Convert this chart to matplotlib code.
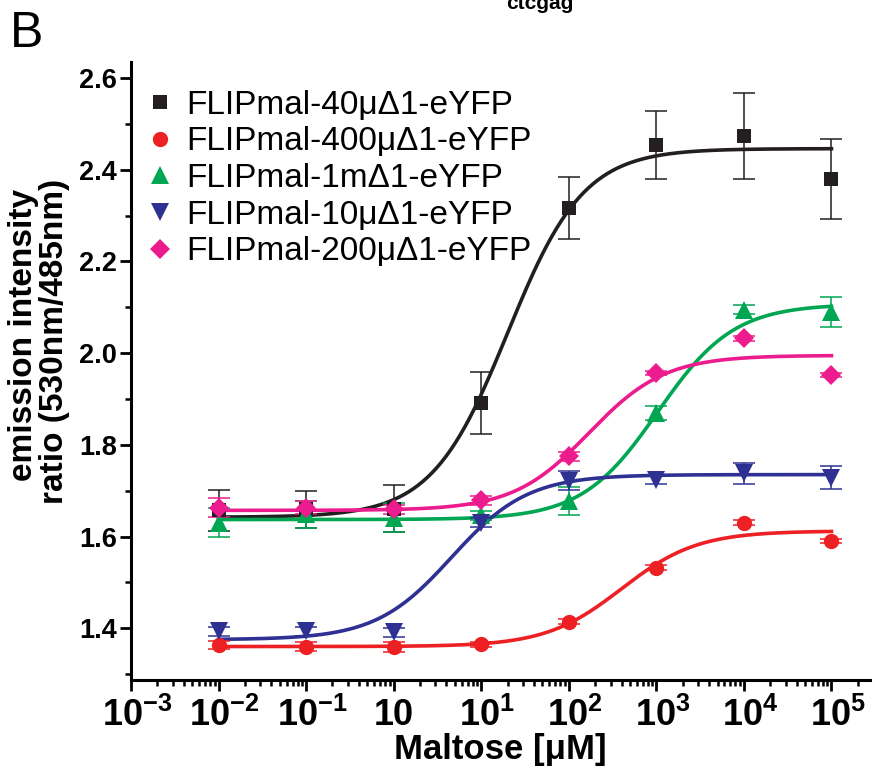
import numpy as np
import matplotlib
matplotlib.use("Agg")
import matplotlib.pyplot as plt
from matplotlib.ticker import FixedLocator, FixedFormatter, LogLocator, MultipleLocator, NullFormatter
from matplotlib.transforms import ScaledTranslation

# ---------------- data ----------------
conc = [1e-2, 1e-1, 1e0, 1e1, 1e2, 1e3, 1e4, 1e5]

names = ["FLIPmal-40μΔ1-eYFP", "FLIPmal-400μΔ1-eYFP", "FLIPmal-1mΔ1-eYFP",
         "FLIPmal-10μΔ1-eYFP", "FLIPmal-200μΔ1-eYFP"]

y_40u = [1.657, 1.659, 1.661, 1.891, 2.317, 2.454, 2.474, 2.380]
e_40u = [0.045, 0.040, 0.052, 0.068, 0.068, 0.075, 0.094, 0.087]

y_400u = [1.363, 1.360, 1.359, 1.365, 1.414, 1.532, 1.630, 1.590]
e_400u = [0.008, 0.010, 0.010, 0.005, 0.005, 0.005, 0.005, 0.005]

y_1m = [1.630, 1.648, 1.641, 1.646, 1.677, 1.870, 2.095, 2.090]
e_1m = [0.032, 0.030, 0.032, 0.010, 0.030, 0.015, 0.010, 0.033]

y_10u = [1.393, 1.393, 1.391, 1.630, 1.722, 1.724, 1.738, 1.728]
e_10u = [0.010, 0.010, 0.010, 0.010, 0.020, 0.010, 0.023, 0.025]

y_200u = [1.663, 1.663, 1.659, 1.679, 1.775, 1.957, 2.032, 1.952]
e_200u = [0.020, 0.015, 0.010, 0.010, 0.010, 0.005, 0.005, 0.005]

# dose-response fit parameters: bottom, top, EC50, hill
fit_40u = (1.642, 2.446, 20.0, 1.0)
fit_400u = (1.360, 1.612, 400.0, 1.0)
fit_1m = (1.637, 2.107, 1040.0, 1.0)
fit_10u = (1.375, 1.735, 4.6, 1.0)
fit_200u = (1.657, 1.995, 170.0, 1.0)

xtick_vals = [1e-3, 1e-2, 1e-1, 1e0, 1e1, 1e2, 1e3, 1e4, 1e5]
xtick_labels = [r"10$^{\mathbf{-3}}$", r"10$^{\mathbf{-2}}$", r"10$^{\mathbf{-1}}$", "10",
                r"10$^{\mathbf{1}}$", r"10$^{\mathbf{2}}$", r"10$^{\mathbf{3}}$",
                r"10$^{\mathbf{4}}$", r"10$^{\mathbf{5}}$"]
ytick_vals = [1.4, 1.6, 1.8, 2.0, 2.2, 2.4, 2.6]

# ---------------- style ----------------
plt.rcParams["font.family"] = ["Liberation Sans", "DejaVu Sans"]
plt.rcParams["mathtext.fontset"] = "custom"
plt.rcParams["mathtext.rm"] = "Liberation Sans:bold"
plt.rcParams["mathtext.bf"] = "Liberation Sans:bold"
plt.rcParams["mathtext.it"] = "Liberation Sans:bold"

colors = ["#231f20", "#ed2024", "#00a651", "#2e3192", "#ec1c8e"]
markers = ["s", "o", "^", "v", "D"]
msizes = [10, 11, 12.5, 12.5, 10.5]

series = [(y_40u, e_40u, fit_40u), (y_400u, e_400u, fit_400u), (y_1m, e_1m, fit_1m),
          (y_10u, e_10u, fit_10u), (y_200u, e_200u, fit_200u)]

fig = plt.figure(figsize=(8.75, 7.72), dpi=100)
ax = fig.add_axes([131/875, 1 - 680/772, (870-131)/875, (680-62)/772])

xs = np.logspace(-2, 5, 400)
handles = []
for (yv, ev, fp), c, m, ms, nm in zip(series, colors, markers, msizes, names):
    b, t, ec50, h = fp
    ax.plot(xs, b + (t - b) / (1 + (ec50 / xs) ** h), color=c, lw=2.6, zorder=2)
    ax.errorbar(conc, yv, yerr=ev, fmt="none", ecolor=c, elinewidth=1.1, capsize=8,
                capthick=1.1, zorder=3)
    hnd, = ax.plot(conc, yv, linestyle="none", marker=m, color=c, markersize=ms,
                   markeredgewidth=0, zorder=4, label=nm)
    handles.append(hnd)

ax.set_xscale("log")
ax.set_xlim(1e-3, 10 ** 5.44)
ax.set_ylim(1.287, 2.635)

ax.xaxis.set_major_locator(FixedLocator(xtick_vals))
ax.xaxis.set_major_formatter(FixedFormatter(xtick_labels))
ax.xaxis.set_minor_locator(LogLocator(base=10, subs=np.arange(2, 10), numticks=20))
ax.xaxis.set_minor_formatter(NullFormatter())
ax.yaxis.set_major_locator(FixedLocator(ytick_vals))
ax.yaxis.set_minor_locator(MultipleLocator(0.1))
ax.set_yticklabels([f"{v:.1f}" for v in ytick_vals])

for s in ["top", "right"]:
    ax.spines[s].set_visible(False)
for s in ["left", "bottom"]:
    ax.spines[s].set_linewidth(2.2)
ax.tick_params(axis="both", which="major", direction="out", length=8, width=2.0)
ax.tick_params(axis="both", which="minor", direction="out", length=4.5, width=1.8)
ax.tick_params(axis="x", which="major", labelsize=26, pad=5)
ax.tick_params(axis="y", which="major", labelsize=19.5, pad=2)
for lbl in ax.get_yticklabels():
    lbl.set_fontweight("bold")
shift = ScaledTranslation(6/100, 0, fig.dpi_scale_trans)
for lbl, txt in zip(ax.get_xticklabels(), xtick_labels):
    lbl.set_fontweight("bold")
    if "$" in txt:
        lbl.set_transform(lbl.get_transform() + shift)

ax.set_xlabel("Maltose [μM]", fontsize=25, fontweight="bold", labelpad=-1)

fig.text(24/875, 1 - 335/772, "emission intensity", rotation=90, ha="center", va="center",
         fontsize=24, fontweight="bold")
fig.text(55/875, 1 - 341/772, "ratio (530nm/485nm)", rotation=90, ha="center", va="center",
         fontsize=24, fontweight="bold")

leg = ax.legend(handles=handles, loc="upper left", bbox_to_anchor=(0.0, 0.982),
                frameon=False, fontsize=24, handlelength=0.75, handletextpad=0.4,
                labelspacing=0.17, borderaxespad=0.3, markerscale=1.0, borderpad=0.2)

fig.text(10/875, 1 - 47/772, "B", fontsize=36, ha="left", va="baseline")
fig.text(540/875, 1 - 9/772, "ctcgag", fontsize=15, fontweight="bold", ha="center", va="baseline")

fig.savefig("out.png", dpi=100)
